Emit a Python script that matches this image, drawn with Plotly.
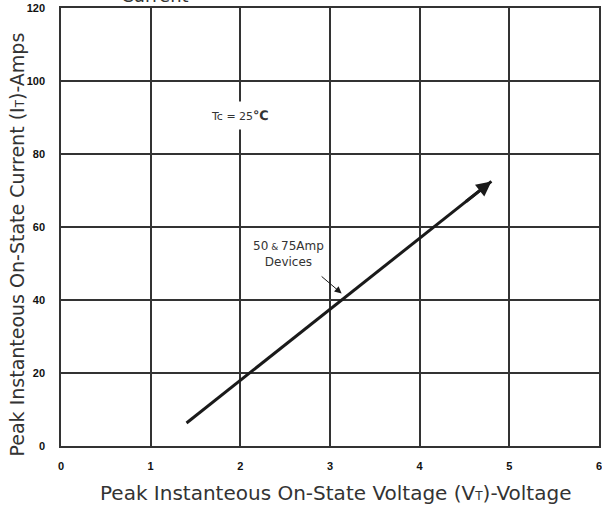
import plotly.graph_objects as go

# Data
voltage = [1.4, 4.8]          # V_T (V)
current = [6.3, 72.5]         # I_T (A)
x_ticks = [0, 1, 2, 3, 4, 5, 6]
y_ticks = [0, 20, 40, 60, 80, 100, 120]

note_label_xy = (2.54, 52.5)
note_arrow_tail = (2.89, 46.8)
note_arrow_head = (3.13, 41.8)
tc_xy = (2.0, 90.5)

x_title = "Peak Instanteous On-State Voltage (V<span style='font-size:12px'>T</span>)-Voltage"
y_title = "Peak Instanteous On-State Current (I<span style='font-size:12px'>T</span>)-Amps"

FONT = "DejaVu Sans"

fig = go.Figure()
fig.add_trace(go.Scatter(x=voltage, y=current, mode="lines",
                         line=dict(color="#1a1a1a", width=3), showlegend=False,
                         hoverinfo="skip"))

# arrow head at end of main line
slope = (current[1] - current[0]) / (voltage[1] - voltage[0])
fig.add_annotation(x=voltage[1], y=current[1], ax=voltage[1] - 0.3, ay=current[1] - 0.3 * slope,
                   xref="x", yref="y", axref="x", ayref="y", text="",
                   showarrow=True, arrowhead=2, arrowsize=1.0, arrowwidth=3, arrowcolor="#1a1a1a")

# small pointer arrow
fig.add_annotation(x=note_arrow_head[0], y=note_arrow_head[1], ax=note_arrow_tail[0], ay=note_arrow_tail[1],
                   xref="x", yref="y", axref="x", ayref="y", text="",
                   showarrow=True, arrowhead=2, arrowsize=1.4, arrowwidth=1, arrowcolor="#1a1a1a")

fig.add_annotation(x=note_label_xy[0], y=note_label_xy[1], xref="x", yref="y",
                   text="50<span style='font-size:9px'> & </span>75Amp<br>Devices",
                   showarrow=False, font=dict(family=FONT, size=12, color="#333"),
                   bgcolor="white", align="center")

fig.add_annotation(x=tc_xy[0], y=tc_xy[1], xref="x", yref="y",
                   text="Tc = 25<b><span style='font-size:13px'>℃</span></b>", showarrow=False,
                   font=dict(family=FONT, size=11, color="#333"), bgcolor="white",
                   borderpad=6)

# clipped title at top
fig.add_annotation(x=0.175, y=1, xref="paper", yref="paper", text="Current",
                   showarrow=False, font=dict(family=FONT, size=18, color="#333"),
                   xanchor="center", yanchor="bottom", yshift=0)

# axis titles
fig.add_annotation(x=0.5, y=0, xref="paper", yref="paper", text=x_title,
                   showarrow=False, font=dict(family=FONT, size=20, color="#333"),
                   xanchor="center", yanchor="middle", yshift=-47, xshift=5)
fig.add_annotation(x=0, y=0.46, xref="paper", yref="paper", text=y_title, textangle=-90,
                   showarrow=False, font=dict(family=FONT, size=19, color="#333"),
                   xanchor="center", yanchor="middle", xshift=-44)

axis_common = dict(showgrid=True, gridcolor="#333", gridwidth=1.5,
                   showline=True, linecolor="#333", linewidth=1.5, mirror=True,
                   ticks="", zeroline=False, automargin=False, ticklabeloverflow="allow",
                   tickfont=dict(family="Liberation Sans", size=11, color="#111", weight="bold"))

fig.update_layout(
    width=602, height=510,
    margin=dict(l=61, r=3, t=8, b=64),
    paper_bgcolor="white", plot_bgcolor="white",
    xaxis=dict(range=[0, 6], tickvals=x_ticks, ticktext=[str(v) for v in x_ticks],
               ticklabelstandoff=9, **axis_common),
    yaxis=dict(range=[0, 120], tickvals=y_ticks, ticktext=[str(v) for v in y_ticks],
               ticklabelstandoff=12, **axis_common),
)

fig.write_html("out.html", config={"displayModeBar": False},
               post_script="document.body.style.margin='0';document.body.style.overflow='hidden';")
